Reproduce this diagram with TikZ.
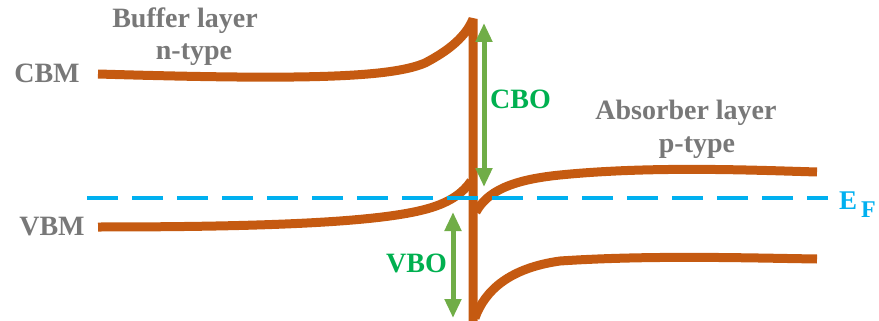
\documentclass[tikz,border=0pt]{standalone}
\usepackage{fontspec}
\setmainfont{Liberation Serif}
\usetikzlibrary{arrows.meta}
\definecolor{band}{RGB}{197,90,17}
\definecolor{txtgray}{RGB}{120,120,120}
\definecolor{efcol}{RGB}{0,176,240}
\definecolor{arrgreen}{RGB}{112,173,71}
\definecolor{lblgreen}{RGB}{0,176,80}
\begin{document}
\begin{tikzpicture}[x=1pt,y=-1pt,
  bandline/.style={draw=band,line width=9pt},
  efline/.style={draw=efcol,line width=4pt,dash pattern=on 31pt off 14pt},
  offarrow/.style={draw=arrgreen,line width=5pt,{Triangle[width=16pt,length=19pt]}-{Triangle[width=16pt,length=19pt]}},
  grayText/.style={text=txtgray,font=\fontsize{28}{32}\selectfont\bfseries,inner sep=0pt},
  greenText/.style={text=lblgreen,font=\fontsize{28}{32}\selectfont\bfseries,inner sep=0pt},
  efText/.style={text=efcol,font=\fontsize{27}{30}\selectfont\bfseries,inner sep=0pt},
  efSub/.style={text=efcol,font=\fontsize{24}{28}\selectfont\bfseries,inner sep=0pt}]
\useasboundingbox (0,0) rectangle (879,321);

% coordinates
\coordinate (cbL) at (98,74);
\coordinate (cbA) at (425,63);
\coordinate (spikeTop) at (473,19);
\coordinate (barBot) at (473,321);
\coordinate (vbL) at (98,227);
\coordinate (vbA) at (430,208);
\coordinate (vbTip) at (471,181);
\coordinate (cbR0) at (476,212);
\coordinate (cbRA) at (560,175);
\coordinate (cbR1) at (817,172);
\coordinate (vbR0) at (475,318);
\coordinate (vbRA) at (560,261);
\coordinate (vbR1) at (817,259);
\coordinate (efL) at (87,198);
\coordinate (efR) at (828,198);
\coordinate (cboTop) at (484,23);
\coordinate (cboBot) at (484,187);
\coordinate (vboTop) at (453,212);
\coordinate (vboBot) at (453,318);

% bands
\draw[bandline,line join=bevel] (cbL) .. controls (300,80) and (390,78) .. (cbA)
   .. controls (450,50) and (466,36) .. (spikeTop) -- (barBot);
\draw[bandline] (vbL) .. controls (300,227) and (390,220) .. (vbA)
   .. controls (450,202) and (463,193) .. (vbTip);
\draw[bandline] (cbR0) .. controls (487,192) and (510,180) .. (cbRA)
   .. controls (650,166) and (750,170) .. (cbR1);
\draw[bandline] (vbR0) .. controls (485,290) and (510,268) .. (vbRA)
   .. controls (650,255) and (750,258) .. (vbR1);

% Fermi level
\draw[efline] (efL) -- (efR);

% offsets
\draw[offarrow] (cboTop) -- (cboBot);
\draw[offarrow] (vboTop) -- (vboBot);

% labels
\node[grayText,anchor=base] (buf1) at (185,28) {Buffer layer};
\node[grayText,anchor=base] (buf2) at (194,60) {n-type};
\node[grayText,anchor=base] (cbm) at (47,83) {CBM};
\node[grayText,anchor=base] (vbm) at (52,235) {VBM};
\node[grayText,anchor=base] (abs1) at (686,120) {Absorber layer};
\node[grayText,anchor=base] (abs2) at (697,152) {p-type};
\node[greenText,anchor=base west] (cbo) at (490,108) {CBO};
\node[greenText,anchor=base east] (vbo) at (447,272) {VBO};
\node[efText,anchor=base west] (efE) at (839,209) {E};
\node[efSub,anchor=base west] (efF) at (861,217) {F};
\end{tikzpicture}
\end{document}
